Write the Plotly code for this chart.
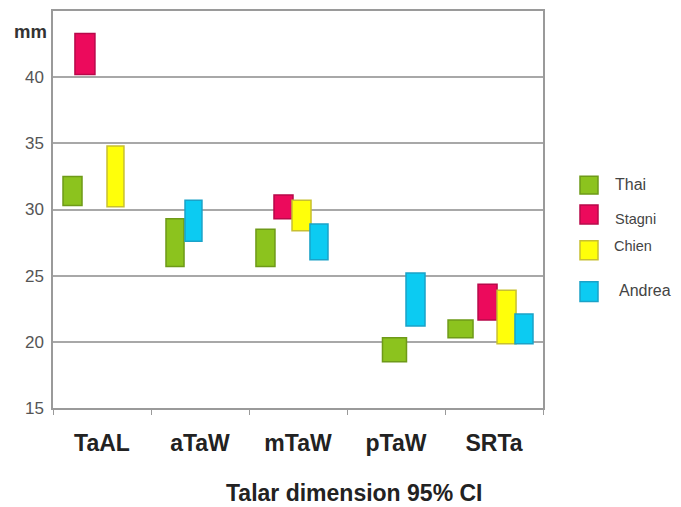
import plotly.graph_objects as go

# ---------------- data (95% CI ranges, mm) ----------------
categories = ["TaAL", "aTaW", "mTaW", "pTaW", "SRTa"]
series = ["Thai", "Stagni", "Chien", "Andrea"]

thai_low = [30.3, 25.7, 25.7, 18.5, 20.3]
thai_high = [32.5, 29.3, 28.5, 20.3, 21.65]
stagni_low = [40.2, None, 29.3, None, 21.65]
stagni_high = [43.3, None, 31.1, None, 24.35]
chien_low = [30.2, None, 28.4, None, 19.85]
chien_high = [34.8, None, 30.7, None, 23.9]
andrea_low = [None, 27.6, 26.2, 21.2, 19.85]
andrea_high = [None, 30.7, 28.9, 25.2, 22.1]

y_tick_values = [15, 20, 25, 30, 35, 40]

# ---------------- styling / placement (not data) ----------------
fills = {"Thai": "#8CC31E", "Stagni": "#EC0A5C", "Chien": "#FFFF0A", "Andrea": "#0CCBF2"}
edges = {"Thai": "#6E9A18", "Stagni": "#B8084A", "Chien": "#C8C030", "Andrea": "#1AA2C8"}
# bar left-edge offsets and widths, in category units
offsets = {
    "Thai": [-0.398, -0.347, -0.429, -0.138, -0.469],
    "Stagni": [-0.276, 0, -0.245, 0, -0.163],
    "Chien": [0.051, 0, -0.061, 0, 0.031],
    "Andrea": [0, -0.153, 0.122, 0.102, 0.214],
}
widths = {
    "Thai": [0.194, 0.184, 0.194, 0.245, 0.255],
    "Stagni": [0.204, 0.2, 0.194, 0.2, 0.194],
    "Chien": [0.173, 0.2, 0.194, 0.2, 0.194],
    "Andrea": [0.2, 0.173, 0.184, 0.194, 0.184],
}

lows = {"Thai": thai_low, "Stagni": stagni_low, "Chien": chien_low, "Andrea": andrea_low}
highs = {"Thai": thai_high, "Stagni": stagni_high, "Chien": chien_high, "Andrea": andrea_high}

FONT = "Liberation Sans, Arial, sans-serif"

fig = go.Figure()
for s in series:
    lo = lows[s]
    hi = highs[s]
    span = [None if (a is None or b is None) else b - a for a, b in zip(lo, hi)]
    fig.add_trace(go.Bar(
        name=s, x=categories, y=span, base=lo,
        offset=offsets[s], width=widths[s],
        marker=dict(color=fills[s], line=dict(color=edges[s], width=1.5)),
        showlegend=False,
    ))

# page has an 8px body margin; figure geometry below is in page pixels
PAGE_OFF = 8
L, R, T, B = 53, 543, 9, 408          # plot area in page pixels
W, H = 681 - PAGE_OFF, 507 - PAGE_OFF  # figure size
pw, ph = R - L, B - T


def px(xp):
    return (xp - L) / pw


def py(yp):
    return (B - yp) / ph


# custom legend (squares + labels) matching the reference placement
legend_boxes = {"Thai": (175, 193), "Stagni": (204, 223), "Chien": (240, 259), "Andrea": (281, 301)}
legend_text = {"Thai": (613, 183, 16), "Stagni": (613, 218, 14.5), "Chien": (612, 245, 14.5), "Andrea": (617, 290, 16)}
shapes = []
annotations = []
for s in series:
    y0, y1 = legend_boxes[s]
    shapes.append(dict(type="rect", xref="paper", yref="paper",
                       x0=px(580), x1=px(598), y0=py(y1), y1=py(y0),
                       fillcolor=fills[s], line=dict(color=edges[s], width=1.5)))
    tx, ty, fs = legend_text[s]
    annotations.append(dict(text=s, xref="paper", yref="paper", x=px(tx), y=py(ty),
                            xanchor="left", yanchor="middle", showarrow=False,
                            font=dict(family=FONT, size=fs, color="#444444")))

annotations.append(dict(text="mm", xref="paper", yref="paper", x=px(30), y=py(30),
                        xanchor="center", yanchor="middle", showarrow=False,
                        font=dict(family=FONT, size=18.5, color="#333333", weight="bold")))
annotations.append(dict(text="Talar dimension 95% CI", xref="paper", yref="paper",
                        x=px(354), y=py(493), xanchor="center", yanchor="middle",
                        showarrow=False,
                        font=dict(family=FONT, size=23, color="#222222", weight="bold")))

fig.update_layout(
    width=W, height=H,
    margin=dict(l=L - PAGE_OFF, r=(W + PAGE_OFF) - R, t=T - PAGE_OFF,
                b=(H + PAGE_OFF) - B, pad=0),
    barmode="overlay",
    plot_bgcolor="white", paper_bgcolor="white",
    shapes=shapes, annotations=annotations,
    showlegend=False,
)
fig.update_xaxes(
    type="category", categoryorder="array", categoryarray=categories,
    showgrid=False, showline=True, linecolor="#9A9A9A", linewidth=1.5, mirror=True,
    ticks="outside", tickson="boundaries", ticklen=5, tickcolor="#9A9A9A", tickwidth=1.2,
    tickfont=dict(family=FONT, size=23, color="#222222", weight="bold"),
    ticklabelstandoff=14,
)
fig.update_yaxes(
    range=[15, 45], tickvals=y_tick_values,
    showgrid=True, gridcolor="#A8A8A8", gridwidth=1.5,
    showline=True, linecolor="#9A9A9A", linewidth=1.5, mirror=True,
    ticks="", zeroline=False,
    tickfont=dict(family=FONT, size=17, color="#555555"),
    ticklabelstandoff=4,
)

fig.write_html("out.html")
